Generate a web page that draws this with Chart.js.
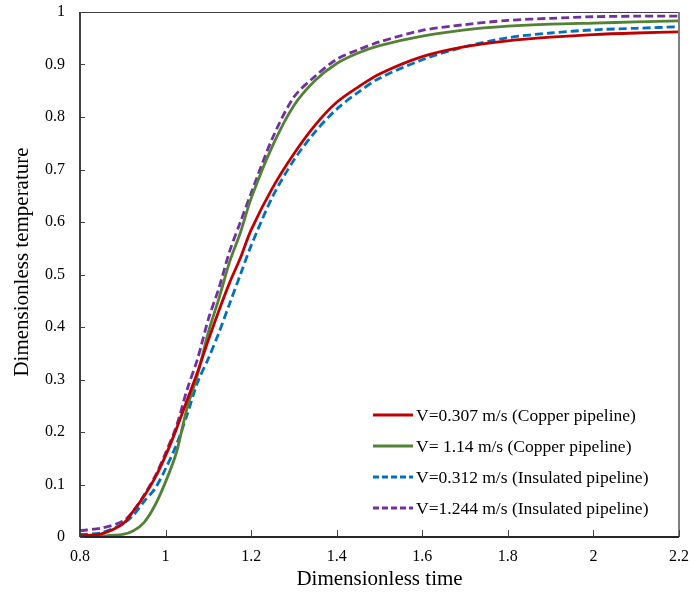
<!DOCTYPE html>
<html>
<head>
<meta charset="utf-8">
<script src="https://cdn.jsdelivr.net/npm/chart.js@4.4.1/dist/chart.umd.min.js"></script>
<style>
  html, body { margin: 0; padding: 0; background: #ffffff; }
  #wrap { width: 691px; height: 592px; }
</style>
</head>
<body>
<div id="wrap"><canvas id="c" width="691" height="592"></canvas></div>
<script>
// Dimensionless time sample points shared by all curves
const time = [0.8, 0.85, 0.9, 0.925, 0.95, 0.975, 1.0, 1.025, 1.05, 1.075, 1.1, 1.125, 1.15, 1.175, 1.2,
              1.25, 1.3, 1.35, 1.4, 1.45, 1.5, 1.6, 1.7, 1.8, 1.9, 2.0, 2.1, 2.2];

// Dimensionless temperature for each test case
const copperSlow = [0.002, 0.006, 0.025, 0.05, 0.078, 0.112, 0.155, 0.205, 0.26, 0.315, 0.375, 0.432, 0.485, 0.532, 0.585,
                    0.665, 0.73, 0.785, 0.828, 0.857, 0.882, 0.915, 0.934, 0.945, 0.952, 0.957, 0.96, 0.962];
const copperFast = [0.001, 0.002, 0.005, 0.012, 0.028, 0.06, 0.105, 0.16, 0.245, 0.31, 0.39, 0.455, 0.525, 0.58, 0.645,
                    0.745, 0.822, 0.87, 0.902, 0.922, 0.936, 0.954, 0.966, 0.973, 0.977, 0.979, 0.981, 0.983];
const insulSlow  = [0.005, 0.008, 0.025, 0.042, 0.068, 0.092, 0.13, 0.175, 0.232, 0.295, 0.34, 0.39, 0.445, 0.5, 0.555,
                    0.648, 0.718, 0.772, 0.815, 0.847, 0.874, 0.909, 0.934, 0.951, 0.96, 0.966, 0.969, 0.972];
const insulFast  = [0.012, 0.017, 0.03, 0.05, 0.08, 0.115, 0.16, 0.21, 0.28, 0.34, 0.415, 0.475, 0.545, 0.6, 0.655,
                    0.76, 0.838, 0.878, 0.91, 0.928, 0.943, 0.965, 0.976, 0.984, 0.988, 0.991, 0.992, 0.992];

const seriesLabels = [
  'V=0.307 m/s (Copper pipeline)',
  'V= 1.14 m/s (Copper pipeline)',
  'V=0.312 m/s (Insulated pipeline)',
  'V=1.244 m/s (Insulated pipeline)'
];

const xTickLabels = ['0.8', '1', '1.2', '1.4', '1.6', '1.8', '2', '2.2'];
const yTickLabels = ['0', '0.1', '0.2', '0.3', '0.4', '0.5', '0.6', '0.7', '0.8', '0.9', '1'];

const xTitle = 'Dimensionless time';
const yTitle = 'Dimensionless temperature';

const FONT = '"Liberation Serif", "Times New Roman", serif';

function pts(ys) { return time.map((t, i) => ({ x: t, y: ys[i] })); }

function ds(label, ys, color, dash) {
  return {
    label, data: pts(ys), borderColor: color, backgroundColor: color,
    borderWidth: 2.8, borderDash: dash, pointRadius: 0, tension: 0.3, fill: false
  };
}

// Frame, inward tick marks, vertical axis title and the legend inside the plot
const decor = {
  id: 'decor',
  afterDatasetsDraw(chart) {
    const { ctx, chartArea: a, scales } = chart;
    const xs = scales.x, ys = scales.y;
    ctx.save();
    // top and right frame
    ctx.strokeStyle = '#404040';
    ctx.lineWidth = 1;
    ctx.beginPath(); ctx.moveTo(a.left, a.top + 0.5); ctx.lineTo(a.right, a.top + 0.5); ctx.stroke();
    ctx.strokeStyle = '#7f7f7f';
    ctx.lineWidth = 2;
    ctx.beginPath(); ctx.moveTo(a.right, a.top); ctx.lineTo(a.right, a.bottom); ctx.stroke();
    // left and bottom axes
    ctx.strokeStyle = '#000';
    ctx.lineWidth = 1.5;
    ctx.beginPath(); ctx.moveTo(a.left, a.top); ctx.lineTo(a.left, a.bottom); ctx.stroke();
    ctx.strokeStyle = '#262626';
    ctx.lineWidth = 2;
    ctx.beginPath(); ctx.moveTo(a.left, a.bottom); ctx.lineTo(a.right, a.bottom); ctx.stroke();
    // inward ticks
    ctx.lineWidth = 1;
    ctx.strokeStyle = '#404040';
    xs.ticks.forEach(t => {
      const px = Math.round(xs.getPixelForValue(t.value)) + 0.5;
      ctx.beginPath(); ctx.moveTo(px, a.bottom); ctx.lineTo(px, a.bottom - 7); ctx.stroke();
    });
    ys.ticks.forEach(t => {
      const py = Math.round(ys.getPixelForValue(t.value)) + 0.5;
      ctx.beginPath(); ctx.moveTo(a.left, py); ctx.lineTo(a.left + 5, py); ctx.stroke();
    });
    // vertical axis title
    ctx.save();
    ctx.translate(22, 262);
    ctx.rotate(-Math.PI / 2);
    ctx.font = '21px ' + FONT;
    ctx.fillStyle = '#000';
    ctx.textAlign = 'center';
    ctx.textBaseline = 'middle';
    ctx.fillText(yTitle, 0, 0);
    ctx.restore();
    // legend
    const lx = 373, ly0 = 415, step = 31;
    ctx.font = '17.5px ' + FONT;
    ctx.textBaseline = 'middle';
    ctx.textAlign = 'left';
    chart.data.datasets.forEach((d, i) => {
      const y = ly0 + i * step;
      ctx.strokeStyle = d.borderColor;
      ctx.lineWidth = 2.8;
      ctx.setLineDash(d.borderDash && d.borderDash.length ? [6, 3] : []);
      ctx.beginPath(); ctx.moveTo(lx, y); ctx.lineTo(lx + 40, y); ctx.stroke();
      ctx.setLineDash([]);
      ctx.fillStyle = '#000';
      ctx.fillText(d.label, lx + 43, y + 1);
    });
    ctx.restore();
  }
};

new Chart(document.getElementById('c'), {
  type: 'line',
  data: {
    datasets: [
      ds(seriesLabels[0], copperSlow, '#C00000', []),
      ds(seriesLabels[1], copperFast, '#538135', []),
      ds(seriesLabels[2], insulSlow, '#0070C0', [8, 4]),
      ds(seriesLabels[3], insulFast, '#7030A0', [8, 4])
    ]
  },
  options: {
    responsive: false,
    animation: false,
    layout: { padding: { top: 12, right: 12, left: 0, bottom: 0 } },
    plugins: { legend: { display: false }, tooltip: { enabled: false } },
    scales: {
      x: {
        type: 'linear', min: 0.8, max: 2.2,
        afterBuildTicks(s) { s.ticks = xTickLabels.map(v => ({ value: parseFloat(v) })); },
        afterFit(s) { s.height = 55; s.paddingLeft = 0; s.paddingRight = 0; },
        grid: { display: false, drawTicks: false },
        border: { display: false },
        ticks: {
          padding: 10, color: '#000', font: { family: FONT, size: 16 },
          callback: (v) => xTickLabels.find(l => Math.abs(parseFloat(l) - v) < 1e-9) || ''
        },
        title: { display: true, text: xTitle, color: '#000',
                 font: { family: FONT, size: 21 }, padding: { top: 0, bottom: 0 } }
      },
      y: {
        type: 'linear', min: 0, max: 1,
        afterBuildTicks(s) { s.ticks = yTickLabels.map(v => ({ value: parseFloat(v) })); },
        afterFit(s) { s.width = 80; s.paddingTop = 0; s.paddingBottom = 0; },
        grid: { display: false, drawTicks: false },
        border: { display: false },
        ticks: {
          padding: 15, color: '#000', font: { family: FONT, size: 16 },
          callback: (v) => yTickLabels.find(l => Math.abs(parseFloat(l) - v) < 1e-9) || ''
        },
        title: { display: false }
      }
    }
  },
  plugins: [decor]
});
</script>
</body>
</html>
